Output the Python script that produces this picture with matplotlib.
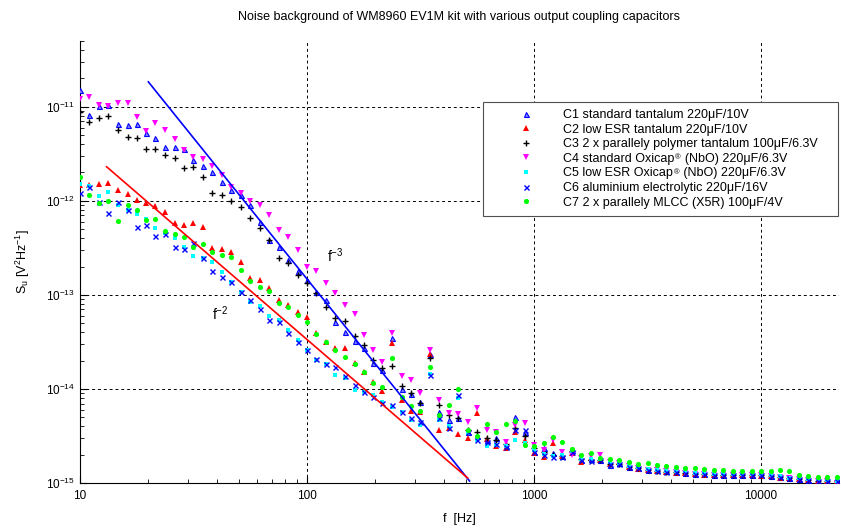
import numpy as np
import matplotlib
matplotlib.use('Agg')
import matplotlib.pyplot as plt
from matplotlib import ticker

plt.rcParams['font.family'] = ['Liberation Sans', 'DejaVu Sans']
plt.rcParams['mathtext.fontset'] = 'custom'
plt.rcParams['mathtext.rm'] = 'Liberation Sans'
plt.rcParams['mathtext.it'] = 'Liberation Sans'
plt.rcParams['mathtext.bf'] = 'Liberation Sans:bold'
plt.rcParams['mathtext.default'] = 'regular'

# frequency bins [Hz]
freq = [10.0, 11.0, 12.1, 13.3, 14.7, 16.2, 17.8, 19.6, 21.5, 23.7, 26.1, 28.7,
        31.6, 34.8, 38.3, 42.2, 46.4, 51.1, 56.2, 61.9, 68.1, 75.0, 82.5, 90.9,
        100, 110, 121, 133, 147, 162, 178, 196, 215, 237, 261, 287,
        316, 348, 383, 422, 464, 511, 562, 619, 681, 750, 825, 909,
        1000, 1101, 1212, 1334, 1468, 1616, 1778, 1957, 2154, 2371, 2610, 2873,
        3162, 3481, 3831, 4217, 4642, 5109, 5623, 6190, 6813, 7499, 8254, 9085,
        10000, 11007, 12115, 13335, 14678, 16156, 17783, 19573, 21544]

# noise spectral density [V^2/Hz]
s_c1 = [1.52e-11, 8.2e-12, 1.02e-11, 1.05e-11, 6.58e-12, 6.42e-12, 6.58e-12, 5.28e-12,
        4.67e-12, 3.75e-12, 3.75e-12, 3.57e-12, 2.73e-12, 2.36e-12, 2.04e-12, 1.59e-12,
        1.31e-12, 1.16e-12, 9.04e-13, 5.97e-13, 3.84e-13, 3.24e-13, 2.36e-13, 1.80e-13,
        1.44e-13, 1.08e-13, 8.83e-14, 5.15e-14, 4.04e-14, 3.24e-14, 2.73e-14, 1.89e-14,
        1.59e-14, 3.49e-14, 1.00e-14, 8.83e-15, 7.26e-15, 2.36e-14, 5.68e-15, 4.67e-15,
        4.91e-15, 3.49e-15, 3.16e-15, 2.87e-15, 3.01e-15, 2.47e-15, 5.03e-15, 3.49e-15,
        2.14e-15, 2.36e-15, 2.09e-15, 1.94e-15, 2.24e-15, 1.76e-15, 1.80e-15, 1.76e-15,
        1.55e-15, 1.63e-15, 1.48e-15, 1.43e-15, 1.38e-15, 1.36e-15, 1.33e-15, 1.31e-15,
        1.29e-15, 1.26e-15, 1.25e-15, 1.23e-15, 1.23e-15, 1.23e-15, 1.23e-15, 1.23e-15,
        1.22e-15, 1.19e-15, 1.16e-15, 1.12e-15, 1.09e-15, 1.08e-15, 1.06e-15, 1.05e-15, 1.04e-15]
s_c2 = [1.48e-12, 1.48e-12, 1.52e-12, 1.55e-12, 1.31e-12, 1.19e-12, 1.03e-12, 9.50e-13,
        8.83e-13, 7.62e-13, 5.82e-13, 5.55e-13, 5.82e-13, 5.28e-13, 3.16e-13, 3.08e-13,
        2.87e-13, 2.24e-13, 1.52e-13, 1.44e-13, 1.19e-13, 8.83e-14, 7.81e-14, 6.58e-14,
        5.82e-14, 3.94e-14, 3.16e-14, 2.73e-14, 2.73e-14, 1.89e-14, 1.52e-14, 1.19e-14,
        9.50e-15, 3.08e-14, 7.62e-15, 5.82e-15, 5.68e-15, 2.36e-14, 3.66e-15, 3.84e-15,
        3.32e-15, 3.01e-15, 5.55e-15, 2.94e-15, 2.47e-15, 2.36e-15, 3.49e-15, 2.87e-15,
        2.09e-15, 1.89e-15, 2.66e-15, 1.94e-15, 2.09e-15, 1.67e-15, 1.85e-15, 1.76e-15,
        1.59e-15, 1.67e-15, 1.48e-15, 1.41e-15, 1.36e-15, 1.34e-15, 1.31e-15, 1.29e-15,
        1.28e-15, 1.25e-15, 1.23e-15, 1.22e-15, 1.22e-15, 1.22e-15, 1.22e-15, 1.22e-15,
        1.20e-15, 1.19e-15, 1.14e-15, 1.12e-15, 1.09e-15, 1.08e-15, 1.06e-15, 1.05e-15, 1.04e-15]
s_c3 = [8.83e-12, 6.91e-12, 7.62e-12, 8.00e-12, 5.68e-12, 4.79e-12, 4.67e-12, 3.57e-12,
        3.57e-12, 3.08e-12, 2.87e-12, 2.24e-12, 2.30e-12, 1.80e-12, 1.22e-12, 1.16e-12,
        1.00e-12, 8.61e-13, 6.58e-13, 5.15e-13, 3.84e-13, 2.47e-13, 2.19e-13, 1.63e-13,
        1.34e-13, 1.05e-13, 7.44e-14, 5.68e-14, 5.28e-14, 3.66e-14, 2.94e-14, 2.04e-14,
        1.67e-14, 1.76e-14, 1.08e-14, 9.04e-15, 7.08e-15, 2.14e-14, 6.74e-15, 5.28e-15,
        4.91e-15, 3.66e-15, 3.49e-15, 3.01e-15, 2.87e-15, 2.60e-15, 3.84e-15, 3.16e-15,
        2.36e-15, 2.14e-15, 1.99e-15, 1.94e-15, 2.19e-15, 1.80e-15, 1.76e-15, 1.76e-15,
        1.59e-15, 1.59e-15, 1.48e-15, 1.43e-15, 1.38e-15, 1.35e-15, 1.32e-15, 1.31e-15,
        1.29e-15, 1.26e-15, 1.24e-15, 1.23e-15, 1.23e-15, 1.23e-15, 1.23e-15, 1.23e-15,
        1.22e-15, 1.19e-15, 1.16e-15, 1.12e-15, 1.09e-15, 1.08e-15, 1.06e-15, 1.06e-15, 1.04e-15]
s_c4 = [1.22e-11, 1.28e-11, 1.05e-11, 1.02e-11, 1.10e-11, 1.10e-11, 7.81e-12, 5.55e-12,
        6.74e-12, 5.68e-12, 4.56e-12, 3.49e-12, 2.94e-12, 2.80e-12, 2.36e-12, 1.89e-12,
        1.41e-12, 1.22e-12, 1.00e-12, 9.04e-13, 7.08e-13, 4.91e-13, 4.14e-13, 3.01e-13,
        1.99e-13, 1.80e-13, 1.34e-13, 1.05e-13, 7.81e-14, 6.27e-14, 3.75e-14, 2.60e-14,
        1.94e-14, 3.94e-14, 1.38e-14, 1.25e-14, 9.04e-15, 2.60e-14, 7.62e-15, 5.55e-15,
        5.41e-15, 4.45e-15, 6.27e-15, 3.66e-15, 3.49e-15, 2.73e-15, 4.14e-15, 4.34e-15,
        2.54e-15, 2.24e-15, 2.87e-15, 2.14e-15, 1.99e-15, 1.85e-15, 1.94e-15, 1.99e-15,
        1.67e-15, 1.63e-15, 1.52e-15, 1.44e-15, 1.39e-15, 1.36e-15, 1.33e-15, 1.31e-15,
        1.29e-15, 1.26e-15, 1.24e-15, 1.23e-15, 1.23e-15, 1.23e-15, 1.23e-15, 1.23e-15,
        1.22e-15, 1.19e-15, 1.16e-15, 1.12e-15, 1.09e-15, 1.08e-15, 1.06e-15, 1.05e-15, 1.01e-15]
s_c5 = [1.52e-12, 1.44e-12, 1.13e-12, 1.25e-12, 9.04e-13, 8.00e-13, 7.26e-13, 6.42e-13,
        5.15e-13, 4.56e-13, 4.04e-13, 3.24e-13, 2.60e-13, 2.47e-13, 2.24e-13, 1.76e-13,
        1.38e-13, 1.08e-13, 8.40e-14, 7.62e-14, 5.97e-14, 5.41e-14, 4.24e-14, 3.32e-14,
        2.60e-14, 2.04e-14, 1.85e-14, 1.41e-14, 1.31e-14, 9.73e-15, 9.27e-15, 8.61e-15,
        7.26e-15, 6.42e-15, 5.68e-15, 4.67e-15, 4.14e-15, 1.44e-14, 4.67e-15, 4.04e-15,
        8.00e-15, 3.40e-15, 2.87e-15, 2.47e-15, 2.54e-15, 2.47e-15, 2.87e-15, 2.66e-15,
        2.24e-15, 2.04e-15, 1.94e-15, 1.99e-15, 2.19e-15, 1.80e-15, 1.80e-15, 1.80e-15,
        1.67e-15, 1.63e-15, 1.52e-15, 1.48e-15, 1.41e-15, 1.38e-15, 1.35e-15, 1.34e-15,
        1.33e-15, 1.29e-15, 1.27e-15, 1.26e-15, 1.26e-15, 1.26e-15, 1.26e-15, 1.26e-15,
        1.25e-15, 1.22e-15, 1.19e-15, 1.14e-15, 1.12e-15, 1.10e-15, 1.09e-15, 1.08e-15, 1.06e-15]
s_c6 = [1.22e-12, 1.41e-12, 9.73e-13, 7.44e-13, 9.73e-13, 8.00e-13, 5.28e-13, 5.55e-13,
        4.24e-13, 4.45e-13, 3.24e-13, 3.08e-13, 3.57e-13, 2.47e-13, 1.80e-13, 1.55e-13,
        1.38e-13, 1.08e-13, 8.83e-14, 7.08e-14, 5.41e-14, 5.15e-14, 3.94e-14, 3.16e-14,
        2.60e-14, 2.09e-14, 1.85e-14, 1.71e-14, 1.38e-14, 1.10e-14, 9.27e-15, 8.20e-15,
        7.08e-15, 6.74e-15, 5.68e-15, 4.91e-15, 4.45e-15, 1.41e-14, 4.91e-15, 3.84e-15,
        8.61e-15, 3.49e-15, 2.87e-15, 2.73e-15, 2.60e-15, 2.41e-15, 3.66e-15, 3.66e-15,
        2.14e-15, 1.99e-15, 1.89e-15, 1.89e-15, 2.14e-15, 1.76e-15, 1.71e-15, 1.76e-15,
        1.59e-15, 1.59e-15, 1.48e-15, 1.43e-15, 1.38e-15, 1.35e-15, 1.32e-15, 1.31e-15,
        1.29e-15, 1.26e-15, 1.24e-15, 1.23e-15, 1.23e-15, 1.23e-15, 1.23e-15, 1.23e-15,
        1.22e-15, 1.19e-15, 1.16e-15, 1.12e-15, 1.09e-15, 1.08e-15, 1.06e-15, 1.06e-15, 1.04e-15]
s_c7 = [1.80e-12, 1.16e-12, 9.50e-13, 1.00e-12, 6.12e-13, 9.04e-13, 8.00e-13, 6.27e-13,
        6.42e-13, 4.79e-13, 4.45e-13, 4.14e-13, 3.24e-13, 3.49e-13, 2.87e-13, 2.66e-13,
        2.54e-13, 1.85e-13, 1.41e-13, 1.22e-13, 1.10e-13, 8.20e-14, 7.44e-14, 6.12e-14,
        5.15e-14, 3.84e-14, 3.16e-14, 2.60e-14, 2.19e-14, 1.85e-14, 1.52e-14, 1.16e-14,
        1.05e-14, 2.14e-14, 8.20e-15, 6.58e-15, 5.82e-15, 1.71e-14, 5.28e-15, 6.74e-15,
        1.00e-14, 3.66e-15, 3.16e-15, 4.24e-15, 3.49e-15, 4.24e-15, 4.56e-15, 2.54e-15,
        2.47e-15, 2.66e-15, 3.08e-15, 2.73e-15, 2.30e-15, 1.99e-15, 2.09e-15, 1.85e-15,
        1.80e-15, 1.76e-15, 1.69e-15, 1.61e-15, 1.63e-15, 1.54e-15, 1.50e-15, 1.49e-15,
        1.46e-15, 1.44e-15, 1.40e-15, 1.36e-15, 1.38e-15, 1.35e-15, 1.35e-15, 1.35e-15,
        1.35e-15, 1.35e-15, 1.38e-15, 1.33e-15, 1.23e-15, 1.20e-15, 1.16e-15, 1.15e-15, 1.16e-15]

# slope guide lines (end points)
f3_line_f = [20, 520]
f3_line_s = [1.84e-11, 1.05e-15]
f2_line_f = [13.1, 510]
f2_line_s = [2.3e-12, 1.13e-15]

# the registered sign after "Oxicap" is added as a small raised text below
labels = ['C1 standard tantalum 220\u03bcF/10V',
          'C2 low ESR tantalum 220\u03bcF/10V',
          'C3 2 x parallely polymer tantalum 100\u03bcF/6.3V',
          'C4 standard Oxicap   (NbO) 220\u03bcF/6.3V',
          'C5 low ESR Oxicap   (NbO) 220\u03bcF/6.3V',
          'C6 aluminium electrolytic 220\u03bcF/16V',
          'C7 2 x parallely MLCC (X5R) 100\u03bcF/4V']

fig = plt.figure(figsize=(8.41, 5.29), dpi=100)
ax = fig.add_axes([80/841, 46/529, 759/841, 442/529])

style = [dict(marker='^', color='#0000ff', mfc='#8080ff', mec='#0000ff', ms=3.6, mew=0.8),
         dict(marker='^', color='#ff0000', ms=4.0, mew=0),
         dict(marker='+', color='#000000', ms=4.2, mew=1.0),
         dict(marker='v', color='#ff00ff', ms=4.0, mew=0),
         dict(marker='s', color='#00ffff', ms=3.3, mew=0),
         dict(marker='x', color='#0000ff', ms=3.6, mew=1.0),
         dict(marker='o', color='#00ff00', ms=3.7, mew=0)]
series = [s_c1, s_c2, s_c3, s_c4, s_c5, s_c6, s_c7]
for s, st, lab in zip(series, style, labels):
    ax.plot(freq, s, linestyle='none', label=lab, zorder=3, **st)

ax.plot(f3_line_f, f3_line_s, color='#0000ff', lw=1.2, zorder=4)
ax.plot(f2_line_f, f2_line_s, color='#ff0000', lw=1.2, zorder=4)
ax.text(122.5, 2.24e-13, 'f$^{-3}$', fontsize=10, va='baseline', ha='left')
ax.text(38.2, 5.42e-14, 'f$^{-2}$', fontsize=10, va='baseline', ha='left')

ax.set_xscale('log')
ax.set_yscale('log')
ax.set_xlim(10, 22050)
ax.set_ylim(1e-15, 5e-11)
ax.set_xticks([10, 100, 1000, 10000])
ax.set_xticklabels(['10', '100', '1000', '10000'])
ax.xaxis.set_minor_formatter(ticker.NullFormatter())
ax.yaxis.set_minor_formatter(ticker.NullFormatter())
ax.tick_params(which='both', direction='in', labelsize=8.5, top=False, right=False)
ax.tick_params(which='major', length=5, width=0.8)
ax.tick_params(which='minor', length=3, width=0.6)
ax.tick_params(axis='x', pad=5)
ax.spines['top'].set_visible(False)
ax.spines['right'].set_visible(False)
ax.grid(True, which='major', color='black', linestyle=(0, (3, 3)), linewidth=0.7)

ax.set_title('Noise background of WM8960 EV1M kit with various output coupling capacitors',
             fontsize=9, pad=15)
ax.set_xlabel('f  [Hz]', fontsize=9, labelpad=8)
ax.set_ylabel('S$_u$ [V$^2$Hz$^{-1}$]', fontsize=9, labelpad=10)

leg = ax.legend(loc='upper left', mode='expand',
                bbox_to_anchor=(483/841, 311/529, 355/841, 116/529),
                bbox_transform=fig.transFigure, borderaxespad=0, fontsize=9,
                handlelength=5.7, handletextpad=0.15, labelspacing=0.21,
                fancybox=False, framealpha=1, edgecolor='#505050', borderpad=0.55)
leg.get_frame().set_linewidth(0.8)

# small raised (R) sign after "Oxicap"
fig.canvas.draw()
r = fig.canvas.get_renderer()
inv = fig.transFigure.inverted()
for txt in leg.get_texts():
    s = txt.get_text()
    if 'Oxicap' in s:
        tmp = fig.text(0, 0, s[:s.index('Oxicap') + 6], fontsize=9)
        w = tmp.get_window_extent(r).width
        tmp.remove()
        bb = txt.get_window_extent(r)
        px, py = inv.transform((bb.x0 + w + 0.8, bb.y1 - 1.5))
        fig.text(px, py, '\u00ae', fontsize=5.5, ha='left', va='top')

fig.savefig('out.png', dpi=100)
